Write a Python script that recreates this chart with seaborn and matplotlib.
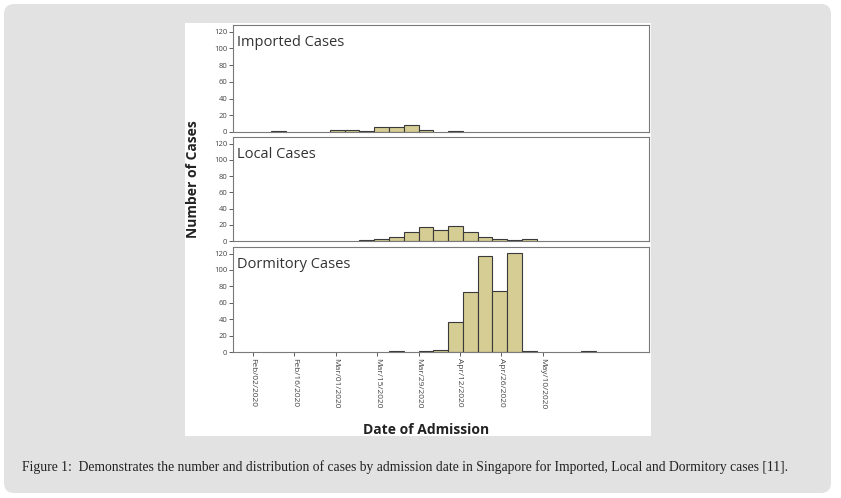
import numpy as np
import pandas as pd
import matplotlib
matplotlib.use('Agg')
import matplotlib.pyplot as plt
import matplotlib.dates as mdates
from matplotlib.patches import FancyBboxPatch, Rectangle
from matplotlib.transforms import IdentityTransform
import seaborn as sns


# 5-day bins of admission date, first bin starts Feb 8 2020
bin_starts = pd.date_range('2020-02-08', periods=22, freq='5D')

imported = [1, 0, 0, 0, 2, 2, 1, 6, 6, 8, 2, 0, 1, 0, 0, 0, 0, 0, 0, 0, 0, 0]
local = [0, 0, 0, 0, 0, 0, 1, 2, 5, 11, 17, 14, 19, 11, 5, 3, 1, 3, 0, 0, 0, 0]
dormitory = [0, 0, 0, 0, 0, 0, 0, 0, 1, 0, 1, 3, 36, 73, 117, 74, 121, 1, 0, 0, 0, 1]

panel_names = ['Imported Cases', 'Local Cases', 'Dormitory Cases']
tick_dates = pd.date_range('2020-02-02', periods=8, freq='14D')
y_ticks = [0, 20, 40, 60, 80, 100, 120]

caption = ('Figure 1:  Demonstrates the number and distribution of cases by admission date '
           'in Singapore for Imported, Local and Dormitory cases [11].')

sns.set_style('white')
plt.rcParams['font.family'] = ['Open Sans', 'DejaVu Sans']

W, H = 841, 498
fig = plt.figure(figsize=(W / 100, H / 100), dpi=100)
fig.patch.set_facecolor('white')

# grey rounded card and white figure area (pixel coords, origin bottom-left)
fig.patches.append(FancyBboxPatch((4, H - 493), 827, 489,
                                  boxstyle='round,pad=0,rounding_size=10',
                                  transform=IdentityTransform(), facecolor='#e2e2e2',
                                  edgecolor='none', zorder=-10))
fig.patches.append(Rectangle((185, H - 436), 466, 413, transform=IdentityTransform(),
                             facecolor='white', edgecolor='none', zorder=-9))

edges = [float(v) for v in mdates.date2num(list(bin_starts) + [bin_starts[-1] + pd.Timedelta(days=5)])]
xlim = (mdates.date2num(pd.Timestamp('2020-01-26 05:00')),
        mdates.date2num(pd.Timestamp('2020-06-15')))

panels = [(25, 132), (137, 241), (247, 352)]
series = [imported, local, dormitory]

for i, ((top, bottom), counts, name) in enumerate(zip(panels, series, panel_names)):
    df = pd.DataFrame({'day': mdates.date2num(bin_starts) + 2.5, 'n': counts})
    ax = fig.add_axes([233 / W, 1 - bottom / H, 416 / W, (bottom - top) / H])
    sns.histplot(data=df, x='day', weights='n', bins=edges, ax=ax,
                 color='#d5cd93', edgecolor='#3a3a3a', linewidth=0.8, alpha=1)
    for p in list(ax.patches):
        if p.get_height() == 0:
            p.remove()
    ax.set_xlim(xlim)
    ax.set_ylim(0, 128)
    ax.set_yticks(y_ticks)
    ax.set_ylabel('')
    ax.set_xlabel('')
    for s in ax.spines.values():
        s.set_color('#7a7a7a')
        s.set_linewidth(0.8)
    ax.tick_params(axis='y', left=True, direction='out', length=3, width=0.6,
                   color='#444444', labelsize=5.5, labelcolor='#444444', pad=1)
    ax.text(0.01, 0.80, name, transform=ax.transAxes, ha='left', va='baseline',
            fontsize=10.5, color='#333333')
    if i < 2:
        ax.tick_params(axis='x', bottom=False, labelbottom=False)
    else:
        ax.set_xticks(mdates.date2num(tick_dates))
        ax.xaxis.set_major_formatter(mdates.DateFormatter('%b/%d/%Y'))
        ax.tick_params(axis='x', bottom=True, direction='out', length=3, width=0.6,
                       color='#444444', labelsize=6, labelcolor='#444444', pad=1)
        for lab in ax.get_xticklabels():
            lab.set_rotation(270)
            lab.set_ha('center')
            lab.set_va('top')

fig.text(193 / W, 1 - 179 / H, 'Number of Cases', rotation=90, ha='center', va='center',
         fontsize=10, fontweight='bold', color='#222222')
fig.text(426 / W, 1 - 430 / H, 'Date of Admission', ha='center', va='center',
         fontsize=10, fontweight='bold', color='#222222')
fig.text(22 / W, 1 - 467 / H, caption, ha='left', va='center', fontsize=9.8,
         family=['Liberation Serif', 'DejaVu Serif'], color='#222222')

fig.savefig('out.png', dpi=100, facecolor=fig.get_facecolor())
